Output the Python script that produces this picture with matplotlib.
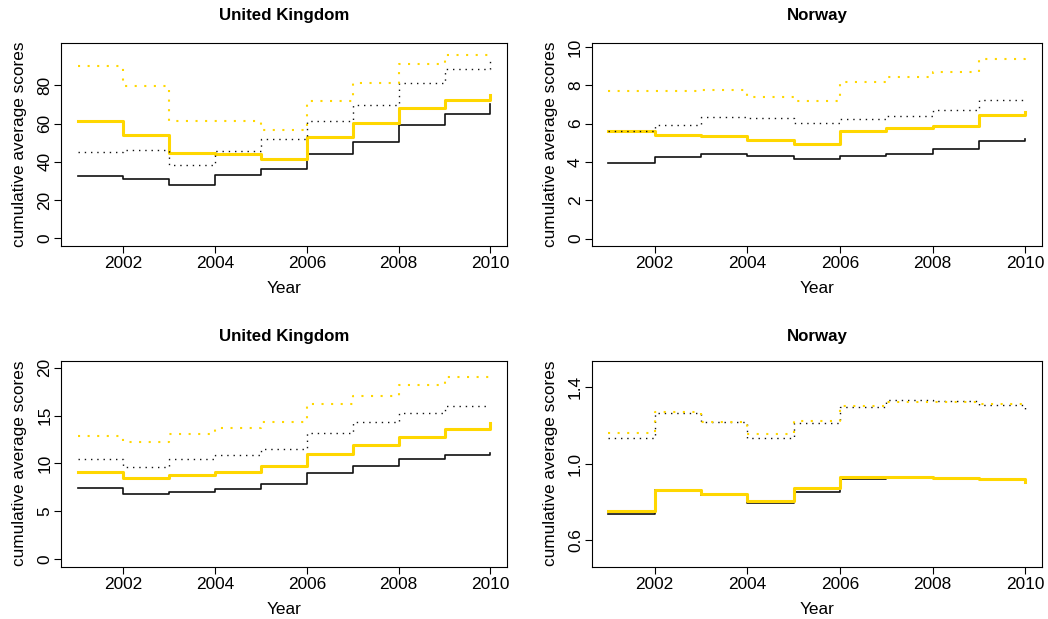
import matplotlib
matplotlib.use('Agg')
from matplotlib import pyplot as plt

plt.rcParams['font.family'] = ['Liberation Sans', 'DejaVu Sans']

years = [2001, 2002, 2003, 2004, 2005, 2006, 2007, 2008, 2009, 2010]

# United Kingdom, first measure
uk1_black = [32.4, 31.2, 27.8, 33.1, 36.4, 44.3, 50.4, 59.4, 65.1, 70.4]
uk1_gold = [61.6, 53.8, 44.5, 44.1, 41.3, 53.2, 60.4, 68.3, 72.2, 75.1]
uk1_black_dot = [45.0, 46.2, 38.5, 45.7, 51.7, 61.5, 69.7, 81.1, 88.3, 94.9]
uk1_gold_dot = [90.2, 79.5, 61.6, 61.6, 56.7, 72.0, 81.4, 91.2, 96.1, 96.1]

# Norway, first measure
no1_black = [3.92, 4.28, 4.39, 4.30, 4.16, 4.30, 4.41, 4.67, 5.07, 5.19]
no1_gold = [5.59, 5.42, 5.35, 5.14, 4.95, 5.61, 5.75, 5.89, 6.47, 6.63]
no1_black_dot = [5.59, 5.93, 6.36, 6.29, 6.01, 6.24, 6.38, 6.71, 7.22, 7.22]
no1_gold_dot = [7.71, 7.71, 7.73, 7.40, 7.17, 8.16, 8.43, 8.67, 9.37, 9.72]

# United Kingdom, second measure
uk2_black = [7.45, 6.82, 7.03, 7.34, 7.87, 8.99, 9.72, 10.42, 10.84, 11.05]
uk2_gold = [9.06, 8.46, 8.81, 9.13, 9.69, 11.01, 11.92, 12.80, 13.57, 14.2]
uk2_black_dot = [10.49, 9.62, 10.42, 10.87, 11.47, 13.15, 14.34, 15.31, 15.98, 15.98]
uk2_gold_dot = [12.83, 12.27, 13.11, 13.71, 14.37, 16.19, 17.10, 18.22, 19.09, 19.09]

# Norway, second measure
no2_black = [0.737, 0.860, 0.837, 0.795, 0.851, 0.919, 0.925, 0.925, 0.918, 0.909]
no2_gold = [0.753, 0.860, 0.840, 0.805, 0.875, 0.930, 0.930, 0.925, 0.919, 0.903]
no2_black_dot = [1.133, 1.268, 1.221, 1.137, 1.211, 1.296, 1.332, 1.328, 1.307, 1.289]
no2_gold_dot = [1.163, 1.270, 1.219, 1.156, 1.225, 1.302, 1.323, 1.321, 1.311, 1.311]

W, H = 1048, 619
GOLD = '#FFD700'
FS = 12.4

fig = plt.figure(figsize=(W / 100, H / 100), dpi=100)


def add_panel(left, top, right, bottom):
    # box given in pixels from the top left corner
    return fig.add_axes([left / W, 1 - bottom / H, (right - left) / W, (bottom - top) / H])


panels = [
    ((61, 43.3, 507, 246), 'United Kingdom', 17,
     (uk1_black, uk1_gold, uk1_black_dot, uk1_gold_dot), (-4.0, 102.0), [0, 20, 40, 60, 80], None),
    ((591.7, 43.3, 1042, 246), 'Norway', 17,
     (no1_black, no1_gold, no1_black_dot, no1_gold_dot), (-0.39, 10.19), [0, 2, 4, 6, 8, 10], None),
    ((61, 360.7, 507, 566.7), 'United Kingdom', 14,
     (uk2_black, uk2_gold, uk2_black_dot, uk2_gold_dot), (-0.8, 20.75), [0, 5, 10, 15, 20], None),
    ((591.7, 360.7, 1042, 566.7), 'Norway', 14,
     (no2_black, no2_gold, no2_black_dot, no2_gold_dot), (0.46, 1.54), [0.6, 1.0, 1.4],
     ['0.6', '1.0', '1.4']),
]

for box, title, title_pad, series, ylim, yticks, ylabels in panels:
    ax = add_panel(*box)
    black, gold, black_dot, gold_dot = series
    ax.plot(years, black, drawstyle='steps-post', color='#111111', lw=1.2)
    ax.plot(years, gold, drawstyle='steps-post', color=GOLD, lw=2.2)
    ax.plot(years, black_dot, drawstyle='steps-post', color='#111111', lw=1.0,
            linestyle=(0, (1, 3.5)))
    ax.plot(years, gold_dot, drawstyle='steps-post', color=GOLD, lw=1.5,
            linestyle=(0, (1, 3.6)))

    ax.set_xlim(2000.64, 2010.36)
    ax.set_ylim(*ylim)
    ax.set_xticks([2002, 2004, 2006, 2008, 2010])
    ax.set_yticks(yticks)
    if ylabels:
        ax.set_yticklabels(ylabels)
    ax.tick_params(direction='out', length=4.7, width=0.8, labelsize=FS)
    ax.tick_params(axis='x', pad=2.6)
    ax.tick_params(axis='y', pad=1.5)
    for lab in ax.get_yticklabels():
        lab.set_rotation(90)
        lab.set_va('center')
    for sp in ax.spines.values():
        sp.set_linewidth(0.8)

    ax.set_title(title, fontsize=12.2, fontweight='bold', pad=title_pad)

    w_px = box[2] - box[0]
    h_px = box[3] - box[1]
    ax.set_xlabel('Year', fontsize=FS)
    ax.xaxis.set_label_coords(0.5, -35.0 / h_px)
    ax.set_ylabel('cumulative average scores', fontsize=FS)
    ax.yaxis.set_label_coords(-33.5 / w_px, 0.5)

fig.savefig('out.png', dpi=100)
